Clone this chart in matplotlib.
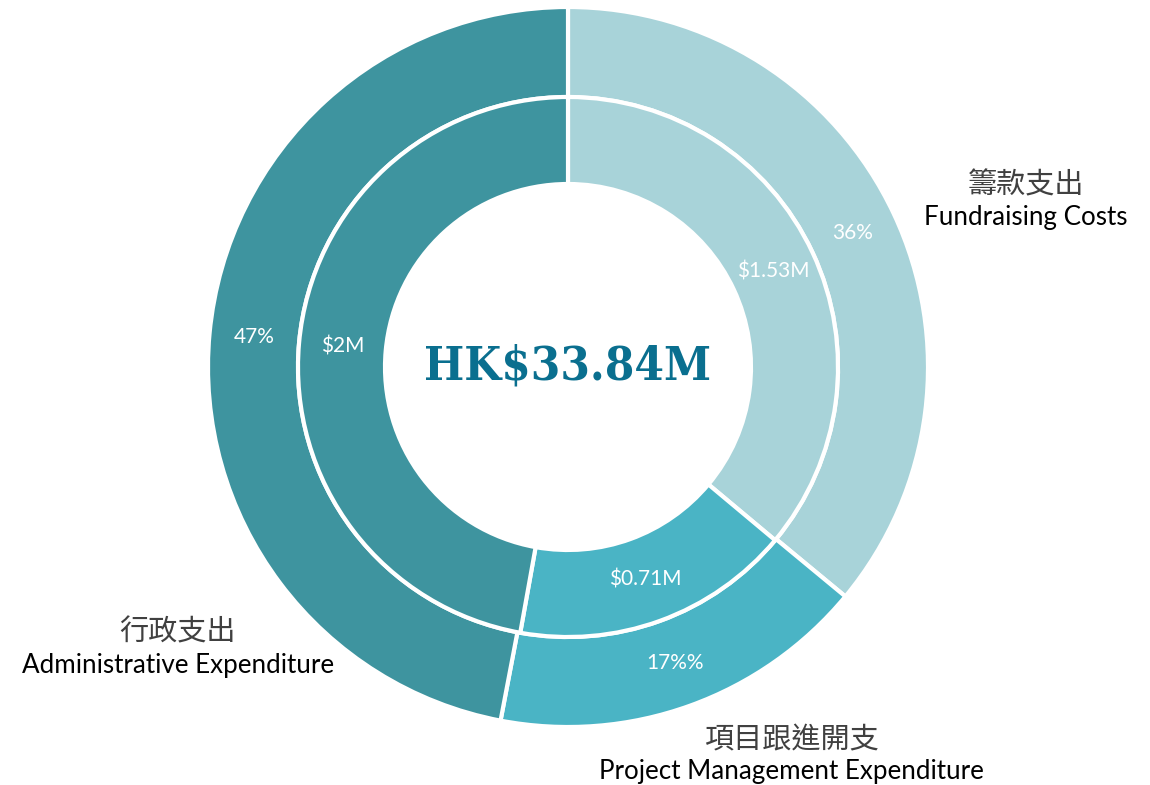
import numpy as np
import matplotlib
matplotlib.use("Agg")
import matplotlib.pyplot as plt

# ---- data ----
categories_zh = ['籌款支出', '項目跟進開支', '行政支出']
categories_en = ['Fundraising Costs', 'Project Management Expenditure', 'Administrative Expenditure']
outer_pct = [36, 17, 47]
inner_values = [1.53, 0.71, 2.0]
outer_labels = ['36%', '17%%', '47%']
inner_labels = ['$1.53M', '$0.71M', '$2M']
total_label = 'HK$33.84M'

colors = ['#A8D3D9', '#4AB4C5', '#3E949F']

W, H = 1150, 785
fig = plt.figure(figsize=(W / 100, H / 100), dpi=100)
ax = fig.add_axes([0, 0, 1, 1])

cx, cy = 568, H - 367
R_out = 360
R_mid = 270
R_in = 183

wp = dict(edgecolor='white', linewidth=3)
w_out, _ = ax.pie(outer_pct, colors=colors, startangle=90, counterclock=False,
                  radius=R_out, center=(cx, cy),
                  wedgeprops=dict(width=R_out - R_mid, **wp))
w_in, _ = ax.pie(inner_values, colors=colors, startangle=90, counterclock=False,
                 radius=R_mid, center=(cx, cy),
                 wedgeprops=dict(width=R_mid - R_in, **wp))

ax.set_xlim(0, W)
ax.set_ylim(0, H)
ax.set_aspect('equal')
ax.axis('off')

lab_font = ['Lato', 'DejaVu Sans']
for wedges, labels, r in ((w_out, outer_labels, (R_out + R_mid) / 2),
                          (w_in, inner_labels, (R_mid + R_in) / 2)):
    for w, lab in zip(wedges, labels):
        ang = np.deg2rad((w.theta1 + w.theta2) / 2)
        ax.text(cx + r * np.cos(ang), cy + r * np.sin(ang), lab,
                color='white', fontsize=15, ha='center', va='center',
                family=lab_font)

ax.text(cx, cy, total_label, ha='center', va='center', fontsize=34,
        fontweight='bold', fontstretch='condensed', family='DejaVu Serif',
        color='#0A6F8F')

zh_font = ['Noto Sans CJK TC', 'DejaVu Sans']
label_pos = [(1026, 185, 218), (791, 740, 771), (178, 632, 665)]
for zh, en, (x, yz, ye) in zip(categories_zh, categories_en, label_pos):
    ax.text(x, H - yz, zh, ha='center', va='center', fontsize=21,
            family=zh_font, color='#404040', fontweight='light')
    ax.text(x, H - ye, en, ha='center', va='center', fontsize=18.7,
            family=lab_font, color='black')

fig.savefig('out.png', dpi=100)
